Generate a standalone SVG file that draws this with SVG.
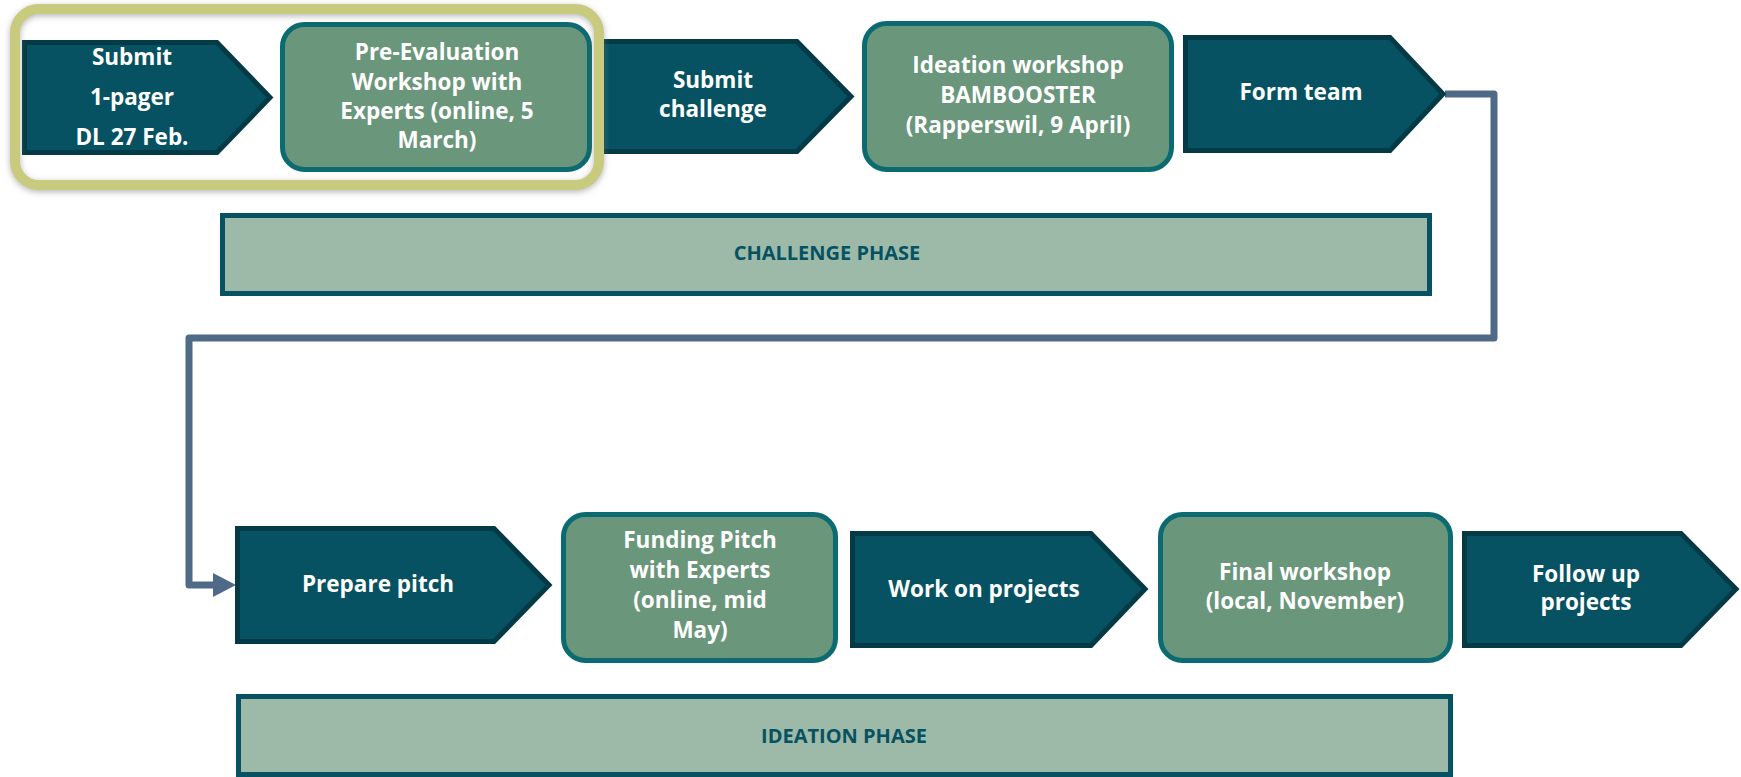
<svg xmlns="http://www.w3.org/2000/svg" width="1741" height="777" viewBox="0 0 1741 777">
  <defs>
    <style>
      .step { fill: #065262; stroke: #033a46; stroke-width: 5; stroke-linejoin: miter; }
      .event { fill: #6a967b; stroke: #0b6b70; stroke-width: 5; }
      .phase { fill: #9dbaa8; stroke: #065262; stroke-width: 5; }
      .label { font-family: "Open Sans", "Liberation Sans", sans-serif; font-weight: 700; font-size: 22.5px; fill: #ffffff; text-anchor: middle; }
      .phase-label { font-family: "Open Sans", "Liberation Sans", sans-serif; font-weight: 700; font-size: 20px; fill: #065262; text-anchor: middle; }
      .flow { fill: none; stroke: #4f6a87; stroke-width: 7; stroke-linejoin: round; }
      .focus { fill: none; stroke: #c8ca7e; stroke-width: 10; }
    </style>
    <marker id="arrowhead" markerUnits="userSpaceOnUse" markerWidth="23" markerHeight="24" viewBox="0 0 23 24" refX="0" refY="12" orient="auto">
      <path d="M0,0 L23,12 L0,24 Z" fill="#4f6a87"/>
    </marker>
    <filter id="soft-shadow" x="-10%" y="-20%" width="120%" height="140%">
      <feDropShadow dx="0" dy="2" stdDeviation="3" flood-color="#7a7a7a" flood-opacity="0.55"/>
    </filter>
  </defs>

  <!-- phase bands -->
  <g id="challenge-phase">
    <rect class="phase" x="222.5" y="215.5" width="1207" height="78"/>
    <text class="phase-label" x="827" y="260">CHALLENGE PHASE</text>
  </g>
  <g id="ideation-phase">
    <rect class="phase" x="238.5" y="696.5" width="1212" height="78"/>
    <text class="phase-label" x="844" y="743">IDEATION PHASE</text>
  </g>

  <!-- connector from the first row to the second row -->
  <g id="connectors">
    <path class="flow" d="M1445,94 H1494 V338 H189 V585 H213" marker-end="url(#arrowhead)"/>
  </g>

  <!-- first row -->
  <g id="submit-one-pager">
    <path class="step" d="M24.5,42.5 H217 L270,97.5 L217,152.5 H24.5 Z"/>
    <text class="label" x="132" y="65">Submit</text>
    <text class="label" x="132" y="105">1-pager</text>
    <text class="label" x="132" y="145">DL 27 Feb.</text>
  </g>
  <g id="pre-evaluation">
    <rect class="event" x="282.5" y="24.5" width="307" height="145" rx="22"/>
    <text class="label" x="437" y="60">Pre-Evaluation</text>
    <text class="label" x="437" y="90">Workshop with</text>
    <text class="label" x="437" y="119">Experts (online, 5</text>
    <text class="label" x="437" y="148">March)</text>
  </g>
  <g id="submit-challenge">
    <path class="step" d="M602,41.5 H797 L851,96.5 L797,151.5 H602 Z"/>
    <text class="label" x="713" y="88">Submit</text>
    <text class="label" x="713" y="117">challenge</text>
  </g>
  <g id="ideation-workshop">
    <rect class="event" x="864.5" y="23.5" width="307" height="146" rx="22"/>
    <text class="label" x="1018" y="73">Ideation workshop</text>
    <text class="label" x="1018" y="103">BAMBOOSTER</text>
    <text class="label" x="1018" y="133">(Rapperswil, 9 April)</text>
  </g>
  <g id="form-team">
    <path class="step" d="M1185.5,37.5 H1390 L1443,94 L1390,150.5 H1185.5 Z"/>
    <text class="label" x="1301" y="100">Form team</text>
  </g>

  <!-- outline around the first two steps -->
  <g id="current-stage">
    <rect class="focus" x="15" y="9" width="584" height="176" rx="24" filter="url(#soft-shadow)"/>
  </g>

  <!-- second row -->
  <g id="prepare-pitch">
    <path class="step" d="M237.5,528.5 H494 L549,585 L494,641.5 H237.5 Z"/>
    <text class="label" x="378" y="592">Prepare pitch</text>
  </g>
  <g id="funding-pitch">
    <rect class="event" x="563.5" y="514.5" width="272" height="146" rx="22"/>
    <text class="label" x="700" y="548">Funding Pitch</text>
    <text class="label" x="700" y="578">with Experts</text>
    <text class="label" x="700" y="608">(online, mid</text>
    <text class="label" x="700" y="638">May)</text>
  </g>
  <g id="work-on-projects">
    <path class="step" d="M852.5,533.5 H1091 L1145,589 L1091,645.5 H852.5 Z"/>
    <text class="label" x="984" y="597">Work on projects</text>
  </g>
  <g id="final-workshop">
    <rect class="event" x="1160.5" y="514.5" width="290" height="146" rx="22"/>
    <text class="label" x="1305" y="580">Final workshop</text>
    <text class="label" x="1305" y="609">(local, November)</text>
  </g>
  <g id="follow-up">
    <path class="step" d="M1464.5,533.5 H1681 L1736,589 L1681,645.5 H1464.5 Z"/>
    <text class="label" x="1586" y="582">Follow up</text>
    <text class="label" x="1586" y="610">projects</text>
  </g>
</svg>
